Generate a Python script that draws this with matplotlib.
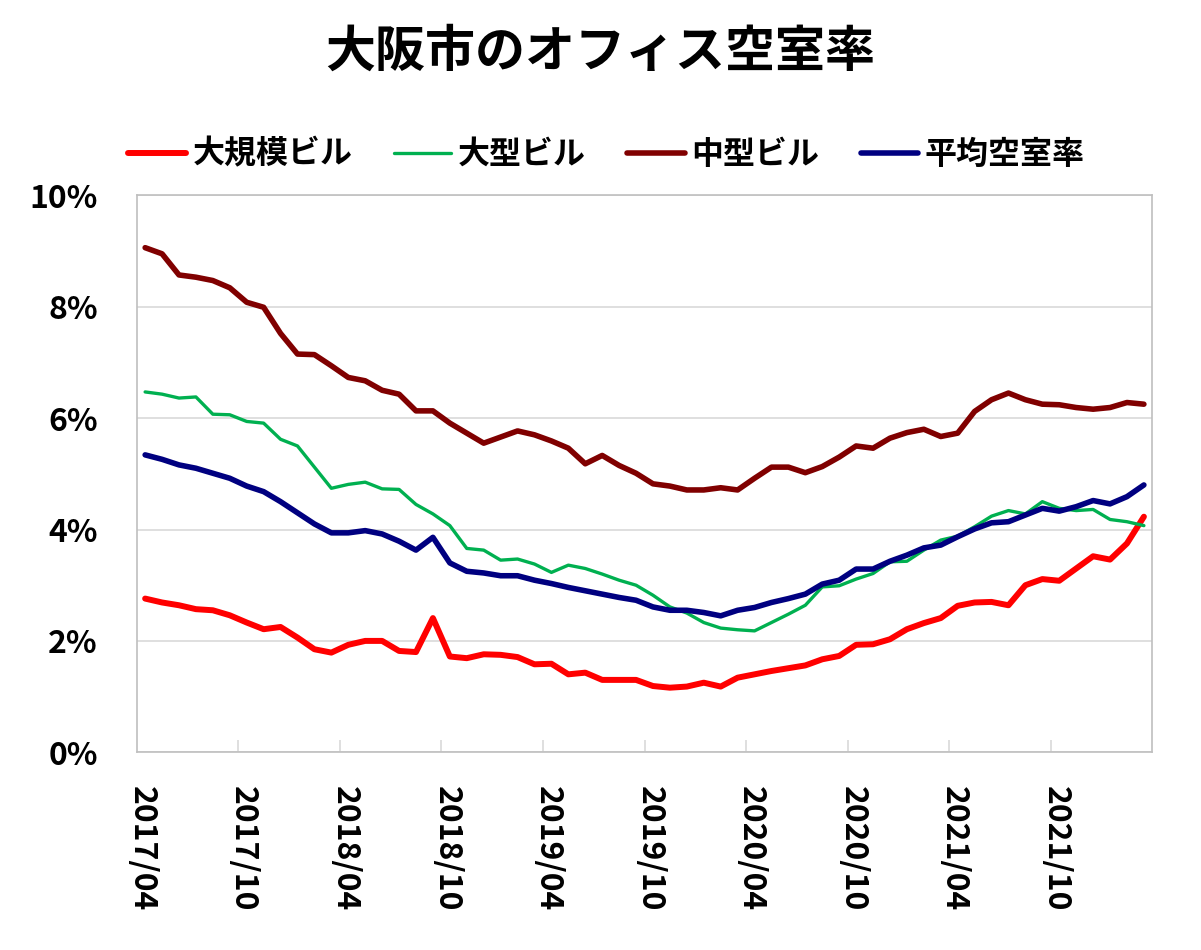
import numpy as np
import matplotlib
matplotlib.use("Agg")
import matplotlib.pyplot as plt
from matplotlib.ticker import FixedLocator, PercentFormatter

plt.rcParams['font.family'] = ['Noto Sans CJK JP', 'DejaVu Sans']

# monthly vacancy rate (%), 2017/04 .. 2022/03
large_scale = [2.76, 2.69, 2.64, 2.57, 2.55, 2.46, 2.33, 2.21, 2.25, 2.06,
               1.85, 1.79, 1.93, 2.00, 2.00, 1.82, 1.80, 2.41, 1.72, 1.69,
               1.76, 1.75, 1.71, 1.58, 1.59, 1.40, 1.43, 1.30, 1.30, 1.30,
               1.19, 1.16, 1.18, 1.25, 1.18, 1.34, 1.40, 1.46, 1.51, 1.56,
               1.67, 1.73, 1.93, 1.94, 2.03, 2.21, 2.32, 2.41, 2.63, 2.69,
               2.70, 2.64, 3.00, 3.11, 3.08, 3.30, 3.52, 3.46, 3.75, 4.23]
large = [6.47, 6.43, 6.36, 6.38, 6.07, 6.06, 5.94, 5.91, 5.62, 5.50,
         5.12, 4.74, 4.81, 4.85, 4.73, 4.72, 4.45, 4.28, 4.07, 3.66,
         3.63, 3.45, 3.47, 3.38, 3.23, 3.36, 3.30, 3.20, 3.09, 3.00,
         2.82, 2.61, 2.50, 2.33, 2.23, 2.20, 2.18, 2.33, 2.48, 2.64,
         2.97, 2.99, 3.11, 3.21, 3.42, 3.43, 3.63, 3.81, 3.88, 4.05,
         4.24, 4.34, 4.28, 4.50, 4.38, 4.34, 4.36, 4.18, 4.14, 4.07]
medium = [9.06, 8.95, 8.57, 8.53, 8.47, 8.34, 8.08, 7.99, 7.52, 7.15,
          7.14, 6.94, 6.73, 6.67, 6.50, 6.43, 6.13, 6.13, 5.91, 5.73,
          5.55, 5.66, 5.77, 5.70, 5.59, 5.46, 5.18, 5.33, 5.15, 5.01,
          4.82, 4.78, 4.71, 4.71, 4.75, 4.71, 4.92, 5.12, 5.12, 5.02,
          5.13, 5.30, 5.50, 5.46, 5.64, 5.74, 5.80, 5.67, 5.73, 6.12,
          6.33, 6.45, 6.33, 6.25, 6.24, 6.19, 6.16, 6.19, 6.28, 6.25]
average = [5.34, 5.26, 5.16, 5.10, 5.01, 4.92, 4.78, 4.68, 4.50, 4.30,
           4.10, 3.94, 3.94, 3.98, 3.92, 3.79, 3.63, 3.86, 3.40, 3.25,
           3.22, 3.17, 3.17, 3.09, 3.03, 2.96, 2.90, 2.84, 2.78, 2.73,
           2.61, 2.55, 2.55, 2.51, 2.45, 2.55, 2.60, 2.69, 2.76, 2.84,
           3.02, 3.09, 3.29, 3.29, 3.43, 3.54, 3.67, 3.72, 3.87, 4.01,
           4.12, 4.14, 4.26, 4.38, 4.33, 4.41, 4.52, 4.46, 4.59, 4.80]

tick_labels = ["2017/04", "2017/10", "2018/04", "2018/10", "2019/04",
               "2019/10", "2020/04", "2020/10", "2021/04", "2021/10"]

x = np.arange(len(average))

fig = plt.figure(figsize=(12.01, 9.5), dpi=100)
ax = fig.add_axes([0.1138, 0.2081, 0.8457, 0.5863])

ax.plot(x, large_scale, color="#FF0000", linewidth=4.3, label="大規模ビル",
        solid_capstyle="round", solid_joinstyle="round")
ax.plot(x, large, color="#00B050", linewidth=2.4, label="大型ビル",
        solid_capstyle="round", solid_joinstyle="round")
ax.plot(x, medium, color="#800000", linewidth=4.0, label="中型ビル",
        solid_capstyle="round", solid_joinstyle="round")
ax.plot(x, average, color="#000080", linewidth=4.0, label="平均空室率",
        solid_capstyle="round", solid_joinstyle="round")

ax.set_xlim(-0.5, len(x) - 0.5)
ax.set_ylim(0, 10)
ax.set_yticks([0, 2, 4, 6, 8, 10])
ax.yaxis.set_major_formatter(PercentFormatter(decimals=0))
ax.grid(axis="y", color="#D9D9D9", linewidth=1.2)
ax.set_axisbelow(True)

# labels every 6 months, tick marks on the category boundaries
label_pos = [6 * i - 0.2 for i in range(len(tick_labels))]
ax.set_xticks(label_pos)
ax.set_xticklabels(tick_labels, rotation=270, fontsize=23, fontweight="bold",
                   ha="center", va="top")
ax.xaxis.set_minor_locator(FixedLocator([6 * i - 0.5 for i in range(1, 10)]))
ax.tick_params(axis="x", which="major", length=0, pad=24)
ax.tick_params(axis="x", which="minor", direction="in", length=9,
               color="#D9D9D9", width=1.2)
ax.tick_params(axis="y", length=0, pad=28, labelsize=23)
for lbl in ax.get_yticklabels():
    lbl.set_fontweight("bold")

for sp in ax.spines.values():
    sp.set_color("#BFBFBF")
    sp.set_linewidth(1.2)

fig.text(0.5, 0.945, "大阪市のオフィス空室率", ha="center", va="center",
         fontsize=36, fontweight="bold")

fig.legend(loc="center", bbox_to_anchor=(0.505, 0.837), ncol=4, frameon=False,
           prop={"size": 23, "weight": "bold"}, handlelength=1.8,
           handletextpad=0.2, columnspacing=1.3)

fig.savefig("out.png", dpi=100)
